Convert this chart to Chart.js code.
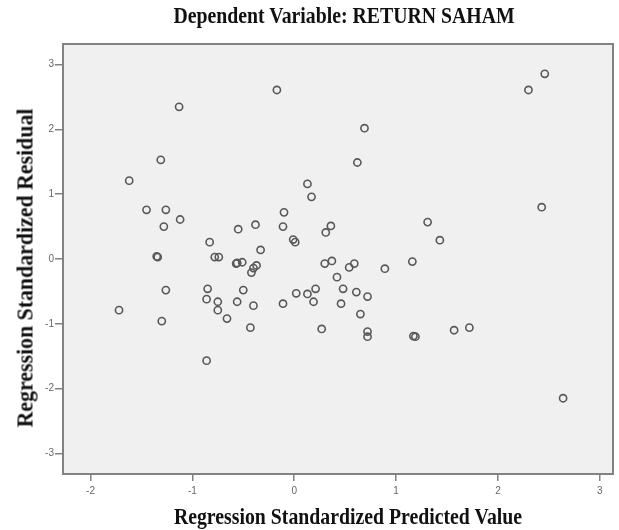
<!DOCTYPE html>
<html>
<head>
<meta charset="utf-8">
<script src="https://cdn.jsdelivr.net/npm/chart.js@4.4.0/dist/chart.umd.min.js"></script>
<style>
html, body { margin: 0; padding: 0; background: #fff; }
#wrap { position: relative; width: 619px; height: 530px; overflow: hidden; }
canvas { position: absolute; left: 0; top: 0; }
.ttl { position: absolute; white-space: nowrap; color: #111;
       font: bold 23px/23px "Liberation Serif", "Times New Roman", serif; }
#title  { left: 344px; top: 4px;   transform: translateX(-50%) scaleX(0.86); }
#xTitle { left: 348px; top: 505px; transform: translateX(-50%) scaleX(0.86); }
#yTitle { left: 25px;  top: 268px; transform: translate(-50%, -50%) rotate(-90deg) scaleX(0.95); }
</style>
</head>
<body>
<div id="wrap">
  <canvas id="scatter" width="619" height="530"></canvas>
  <div id="title" class="ttl">Dependent Variable: RETURN SAHAM</div>
  <div id="xTitle" class="ttl">Regression Standardized Predicted Value</div>
  <div id="yTitle" class="ttl">Regression Standardized Residual</div>
</div>
<script>
//  RESIDUAL SCATTER (SPSS style)
// ============================================================
const predicted = [
    -1.13, -1.31, -1.62, -1.45, -1.26, -1.12, -0.17,  0.69,  0.62,  0.13,
     0.17, -0.10,  2.46,  2.30,  2.43,  1.31, -1.28, -0.55, -0.83, -1.35,
    -1.34, -0.78, -0.74, -0.57, -0.56, -0.51, -1.26, -0.85, -0.86, -1.72,
    -0.75, -0.75, -1.30, -0.66, -0.56, -0.50, -0.86, -0.11, -0.38,  0.36,
     0.31, -0.01,  0.01, -0.33, -0.37, -0.40, -0.42,  0.30,  0.37,  0.54,
     0.59,  0.89,  0.42,  0.02,  0.13,  0.21,  0.48,  0.61,  0.72, -0.40,
    -0.11,  0.19,  0.46,  0.65, -0.43,  0.27,  0.72,  0.72,  1.43,  1.16,
     1.17,  1.19,  1.57,  1.72,  2.64
];
const residual = [
     2.35,  1.53,  1.21,  0.76,  0.76,  0.61,  2.61,  2.02,  1.49,  1.16,
     0.96,  0.72,  2.86,  2.61,  0.80,  0.57,  0.50,  0.46,  0.26,  0.04,
     0.03,  0.03,  0.03, -0.07, -0.06, -0.05, -0.48, -0.46, -0.62, -0.79,
    -0.66, -0.79, -0.96, -0.92, -0.66, -0.48, -1.57,  0.50,  0.53,  0.51,
     0.41,  0.30,  0.26,  0.14, -0.10, -0.14, -0.21, -0.07, -0.03, -0.13,
    -0.07, -0.15, -0.28, -0.53, -0.54, -0.46, -0.46, -0.51, -0.58, -0.72,
    -0.69, -0.66, -0.69, -0.85, -1.06, -1.08, -1.12, -1.20,  0.29, -0.04,
    -1.19, -1.20, -1.10, -1.06, -2.15
];
const xTicks = [-2, -1, 0, 1, 2, 3];
const yTicks = [-3, -2, -1, 0, 1, 2, 3];

// grey plot box with a frame on all four sides
const plotFrame = {
    id: 'plotFrame',
    beforeDatasetsDraw(chart) {
        const a = chart.chartArea, ctx = chart.ctx;
        ctx.save();
        ctx.fillStyle = '#f0f0f0';
        ctx.fillRect(a.left, a.top, a.right - a.left, a.bottom - a.top);
        ctx.restore();
    },
    afterDraw(chart) {
        const a = chart.chartArea, ctx = chart.ctx;
        ctx.save();
        ctx.strokeStyle = '#828282';
        ctx.lineWidth = 2;
        ctx.strokeRect(a.left, a.top, a.right - a.left, a.bottom - a.top);
        ctx.restore();
    }
};

const tickFont = { family: '"Liberation Sans", Arial, sans-serif', size: 10 };

new Chart(document.getElementById('scatter'), {
    type: 'scatter',
    data: {
        datasets: [{
            label: 'RETURN SAHAM',
            data: predicted.map((x, i) => ({ x: x, y: residual[i] })),
            pointStyle: 'circle',
            pointRadius: 3.6,
            pointHoverRadius: 3.6,
            borderWidth: 1.6,
            borderColor: '#585858',
            backgroundColor: 'rgba(0,0,0,0)'
        }]
    },
    options: {
        responsive: false,
        animation: false,
        events: [],
        layout: { padding: { top: 44, right: 6, left: 0, bottom: 0 } },
        plugins: { legend: { display: false }, tooltip: { enabled: false } },
        scales: {
            x: {
                type: 'linear', min: -2.27, max: 3.13,
                afterBuildTicks: s => { s.ticks = xTicks.map(v => ({ value: v })); },
                afterFit: s => { s.height = 56; },
                border: { display: false },
                grid: { drawOnChartArea: false, drawTicks: true, tickLength: 7, color: '#828282', lineWidth: 1.5 },
                ticks: { color: '#666', font: tickFont, padding: 4, maxRotation: 0 }
            },
            y: {
                type: 'linear', min: -3.32, max: 3.32,
                afterBuildTicks: s => { s.ticks = yTicks.map(v => ({ value: v })); },
                afterFit: s => { s.width = 63; },
                border: { display: false },
                grid: { drawOnChartArea: false, drawTicks: true, tickLength: 8, color: '#828282', lineWidth: 1.5 },
                ticks: { color: '#666', font: tickFont, padding: 1 }
            }
        }
    },
    plugins: [plotFrame]
});
</script>
</body>
</html>
